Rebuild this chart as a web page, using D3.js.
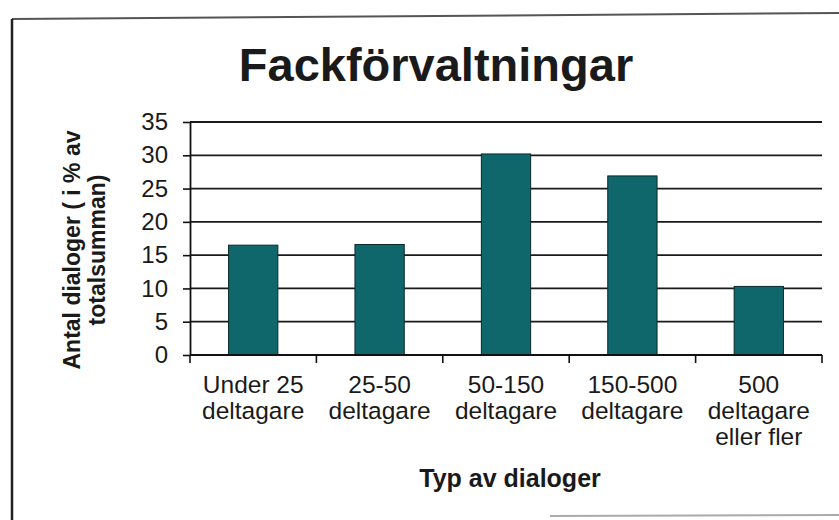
<!DOCTYPE html>
<html>
<head>
<meta charset="utf-8">
<script src="https://cdnjs.cloudflare.com/ajax/libs/d3/7.8.5/d3.min.js"></script>
<style>
  body { margin: 0; background: #fff; }
  svg { display: block; font-family: "Liberation Sans", Arial, sans-serif; }
</style>
</head>
<body>
<div id="chart-area"></div>
<script>
// data
var categories = ["Under 25|deltagare", "25-50|deltagare", "50-150|deltagare", "150-500|deltagare", "500|deltagare|eller fler"];
var values = [16.5, 16.6, 30.2, 26.9, 10.3];
var yTicks = [0, 5, 10, 15, 20, 25, 30, 35];
var title = "Fackförvaltningar";
var xTitle = "Typ av dialoger";
var yTitle = ["Antal dialoger ( i % av", "totalsumman)"];

var W = 839, H = 520;
var margin = { left: 190, right: 17, top: 122, bottom: 165 },
    width = W - margin.left - margin.right,
    height = H - margin.top - margin.bottom;

var svg = d3.select("#chart-area")
    .append("svg")
    .attr("width", W)
    .attr("height", H);

// scanned frame around the chart
svg.append("line")
    .attr("x1", 12).attr("y1", 19).attr("x2", W).attr("y2", 13)
    .attr("stroke", "#555").attr("stroke-width", 2);
svg.append("line")
    .attr("x1", 12).attr("y1", 19).attr("x2", 12).attr("y2", H)
    .attr("stroke", "#222").attr("stroke-width", 2.5);
svg.append("line")
    .attr("x1", 550).attr("y1", 516).attr("x2", W).attr("y2", 515)
    .attr("stroke", "#aaa").attr("stroke-width", 2);

var g = svg.append("g")
    .attr("transform", "translate(" + margin.left + "," + margin.top + ")");

// scales
var x = d3.scaleBand().domain(categories).range([0, width]).padding(0);
var y = d3.scaleLinear().domain([0, 35]).range([height, 0]);

// gridlines
g.selectAll(".grid")
    .data(yTicks.filter(function(d){ return d > 0; }))
    .enter().append("line")
    .attr("class", "grid")
    .attr("x1", 0).attr("x2", width)
    .attr("y1", function(d){ return y(d); })
    .attr("y2", function(d){ return y(d); })
    .attr("stroke", "#1a1a1a")
    .attr("stroke-width", 1.8);

// bars
var barW = x.bandwidth() * 0.39;
g.selectAll(".bar")
    .data(values)
    .enter().append("rect")
    .attr("class", "bar")
    .attr("x", function(d, i){ return x(categories[i]) + (x.bandwidth() - barW) / 2; })
    .attr("y", function(d){ return y(d); })
    .attr("width", barW)
    .attr("height", function(d){ return height - y(d); })
    .attr("fill", "#0f676c")
    .attr("stroke", "#0a2a2c")
    .attr("stroke-width", 1);

// y axis
var yAxis = g.append("g")
    .call(d3.axisLeft(y).tickValues(yTicks).tickSize(7).tickPadding(15).tickSizeOuter(0));
yAxis.select(".domain").attr("stroke", "#111").attr("stroke-width", 1.8);
yAxis.selectAll(".tick line").attr("stroke", "#111").attr("stroke-width", 1.6);
yAxis.selectAll(".tick text")
    .attr("font-family", "Liberation Sans, Arial, sans-serif")
    .attr("font-size", "24px")
    .attr("fill", "#1a1a1a");

// x axis: baseline plus ticks at category boundaries
var xa = g.append("g").attr("transform", "translate(0," + height + ")");
xa.append("line")
    .attr("x1", 0).attr("x2", width)
    .attr("stroke", "#111").attr("stroke-width", 1.8);
var bounds = categories.map(function(c){ return x(c); }).concat([width]);
xa.selectAll(".xt")
    .data(bounds)
    .enter().append("line")
    .attr("class", "xt")
    .attr("x1", function(d){ return d; })
    .attr("x2", function(d){ return d; })
    .attr("y1", 0).attr("y2", 8)
    .attr("stroke", "#111").attr("stroke-width", 1.6);

// category labels, one line per "|"
var labels = xa.selectAll(".xl")
    .data(categories)
    .enter().append("text")
    .attr("class", "xl")
    .attr("text-anchor", "middle")
    .attr("font-size", "24.5px")
    .attr("fill", "#1a1a1a")
    .attr("transform", function(d){ return "translate(" + (x(d) + x.bandwidth() / 2) + ",38)"; });
labels.selectAll("tspan")
    .data(function(d){ return d.split("|"); })
    .enter().append("tspan")
    .attr("x", 0)
    .attr("dy", function(d, i){ return i === 0 ? 0 : 26; })
    .text(function(d){ return d; });

// title
svg.append("text")
    .attr("x", 436).attr("y", 81)
    .attr("text-anchor", "middle")
    .attr("font-size", "47px")
    .attr("font-weight", "bold")
    .attr("fill", "#1a1a1a")
    .text(title);

// axis titles
svg.append("text")
    .attr("x", 510).attr("y", 487)
    .attr("text-anchor", "middle")
    .attr("font-size", "25px")
    .attr("font-weight", "bold")
    .attr("fill", "#1a1a1a")
    .text(xTitle);

var yl = svg.append("text")
    .attr("transform", "translate(80,250) rotate(-90)")
    .attr("text-anchor", "middle")
    .attr("font-size", "23px")
    .attr("font-weight", "bold")
    .attr("fill", "#1a1a1a");
yl.selectAll("tspan")
    .data(yTitle)
    .enter().append("tspan")
    .attr("x", 0)
    .attr("dy", function(d, i){ return i === 0 ? 0 : 25; })
    .text(function(d){ return d; });
</script>
</body>
</html>
